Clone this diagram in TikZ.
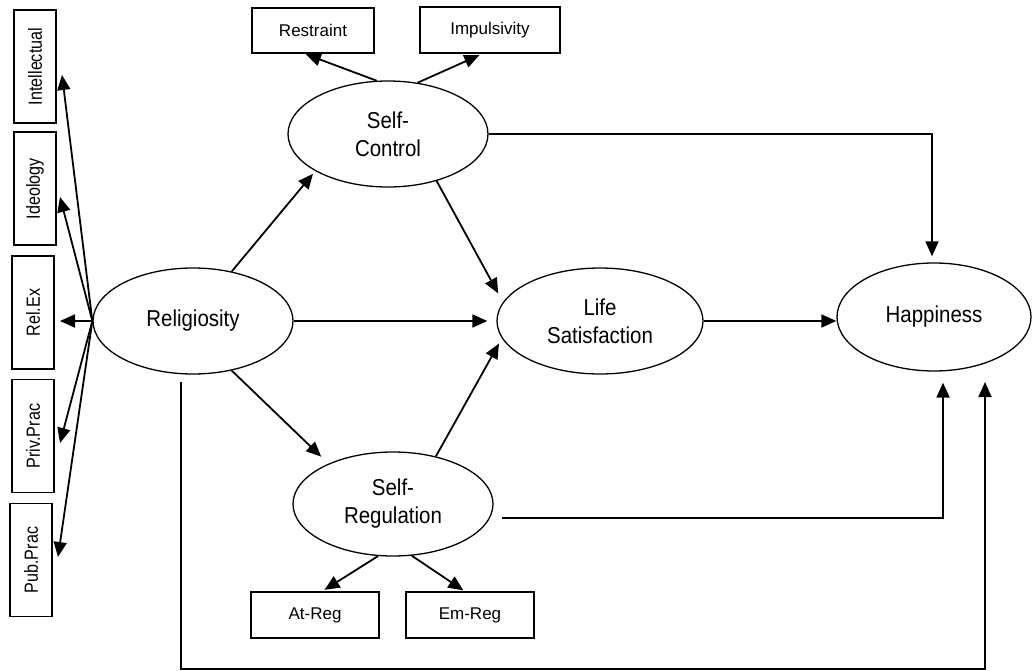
\documentclass[tikz,border=0pt]{standalone}
\usepackage{fontspec}
\setmainfont{Liberation Sans}
\newfontfamily\narrowfont[FakeStretch=0.89]{Liberation Sans}
\newfontfamily\vertfont[FakeStretch=0.85]{Liberation Sans}
\usetikzlibrary{shapes.geometric,arrows.meta,calc}
\begin{document}
\begin{tikzpicture}[x=1pt,y=-1pt,
  lat/.style={ellipse,draw,line width=1.3pt,inner sep=0pt,align=center,font=\narrowfont\fontsize{23}{28}\selectfont},
  ind/.style={rectangle,draw,line width=1.1pt,inner sep=0pt,font=\fontsize{17}{20}\selectfont},
  arr/.style={line width=1.8pt,-{Triangle[length=15pt,width=13pt]}},
  vbox/.style={ind,rotate=90,minimum width=113pt,minimum height=42pt,font=\vertfont\fontsize{19}{22}\selectfont}]
\useasboundingbox (0,0) rectangle (1032,671);

% latent variables
\node[lat,minimum width=200pt,minimum height=106pt] (rel) at (193,321) {Religiosity};
\node[lat,minimum width=200pt,minimum height=106pt] (sc) at (388,134) {Self-\\Control};
\node[lat,minimum width=206pt,minimum height=106pt] (ls) at (600,321) {Life\\Satisfaction};
\node[lat,minimum width=200pt,minimum height=104pt] (sr) at (393,504) {Self-\\Regulation};
\node[lat,minimum width=194pt,minimum height=108pt] (hap) at (934,317) {Happiness};

% indicators
\node[ind,minimum width=122pt,minimum height=45pt] (restr) at (313,30.5) {Restraint};
\node[ind,minimum width=140pt,minimum height=46pt] (imp) at (490,30) {Impulsivity};
\node[ind,minimum width=128pt,minimum height=46pt] (atr) at (315,615) {At-Reg};
\node[ind,minimum width=128pt,minimum height=46pt] (emr) at (470,615) {Em-Reg};

\node[vbox] (intel) at (35,66.5) {Intellectual};
\node[vbox] (ideo) at (35,188.5) {Ideology};
\node[vbox] (relex) at (33,312.5) {Rel.Ex};
\node[vbox] (priv) at (33,436) {Priv.Prac};
\node[vbox] (pub) at (31,560) {Pub.Prac};

% arrow tips at the left indicators
\coordinate (tIntel) at (62,75);
\coordinate (tIdeo) at (60,197);
\coordinate (tRelex) at (60,321);
\coordinate (tPriv) at (60,443);
\coordinate (tPub) at (58,557);
\foreach \t in {tIntel,tIdeo,tRelex,tPriv,tPub}
  \draw[arr] (rel.west) -- (\t);

% self-control indicators
\draw[arr,shorten >=2pt] (sc.102) -- ([xshift=-9pt]restr.south);
\draw[arr,shorten >=4pt] (sc.60) -- ([xshift=-7pt]imp.south);

% self-regulation indicators
\draw[arr,shorten >=3pt] (sr.254) -- ([xshift=7pt]atr.north);
\draw[arr,shorten >=2pt] (sr.-70) -- ([xshift=-5pt]emr.north);

% structural paths
\draw[arr,shorten >=3.5pt] (rel.52) -- (sc.207);
\draw[arr,shorten >=10pt] (sc.-44) -- (ls.169);
\draw[arr,shorten >=9pt] (rel.east) -- (ls.west);
\draw[arr,shorten >=10pt] (rel.-52) -- (sr.148);
\draw[arr,shorten >=6pt] (sr.48) -- (ls.190);
\draw[arr] (ls.east) -- (hap.west |- ls.east);
\draw[arr,shorten >=6pt] (sc.east) -| ([xshift=-2pt]hap.north);
\coordinate (srout) at (502,518);
\draw[arr,shorten >=11pt] (srout) -| ([xshift=9pt]hap.south);
\coordinate (relout) at (181,382);
\coordinate (hapin) at (985,382);
\coordinate (bot) at (181,669);
\draw[arr] (relout) -- (bot) -| (hapin);
\end{tikzpicture}
\end{document}
